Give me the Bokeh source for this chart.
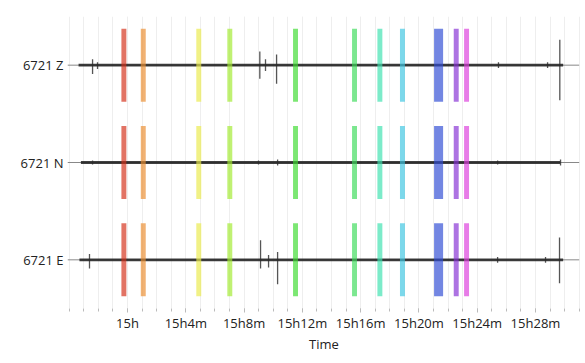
from bokeh.plotting import figure
from bokeh.models import FixedTicker, Range1d, FactorRange, ColumnDataSource
from bokeh.embed import file_html
from bokeh.resources import INLINE

# ---- data ----
channels = ["6721 Z", "6721 N", "6721 E"]

# x values are minutes after 15h00
tick_minutes = [0, 4, 8, 12, 16, 20, 24, 28]
tick_labels = ["15h", "15h4m", "15h8m", "15h12m", "15h16m", "15h20m", "15h24m", "15h28m"]
minor_minutes = list(range(-4, 32))

# recorded span (faint) and main (dark) span of each trace, minutes
record_start = [-4.12, -4.12, -4.12]
record_end = [31.0, 31.0, 31.0]
trace_start = [-3.36, -3.2, -3.3]
trace_end = [29.9, 29.7, 29.9]

# transients per channel: time (min), upward amplitude, downward amplitude (fraction of lane)
z_t = [-2.40, -2.06, 9.08, 9.47, 10.23, 25.46, 28.83, 29.67]
z_up = [0.06, 0.03, 0.14, 0.06, 0.11, 0.03, 0.03, 0.26]
z_dn = [0.09, 0.04, 0.14, 0.06, 0.19, 0.03, 0.03, 0.36]

n_t = [-2.40, 8.99, 10.30, 25.40, 29.72]
n_up = [0.02, 0.02, 0.03, 0.02, 0.03]
n_dn = [0.02, 0.02, 0.03, 0.02, 0.03]

e_t = [-2.61, 9.13, 9.68, 10.30, 25.40, 28.69, 29.65]
e_up = [0.06, 0.20, 0.05, 0.08, 0.03, 0.03, 0.23]
e_dn = [0.09, 0.09, 0.08, 0.25, 0.03, 0.03, 0.24]

# picked phase windows: centre time (min), width (min), colour
pick_t = [-0.25, 1.08, 4.89, 7.02, 11.53, 15.58, 17.32, 18.87, 21.35, 22.56, 23.27]
pick_w = [0.34, 0.34, 0.34, 0.34, 0.34, 0.34, 0.34, 0.34, 0.62, 0.34, 0.34]
pick_c = ["#d4301a", "#ea8d30", "#eaea4c", "#a2ea30", "#3edb30", "#3edb5b",
          "#3ee2b0", "#3ec6e2", "#304cd4", "#8630d4", "#db3edb"]

FONT = "Open Sans"

p = figure(width=582, height=355,
           x_range=Range1d(-4.12, 31.09),
           y_range=FactorRange(*channels[::-1]),
           output_backend="svg", toolbar_location=None,
           min_border_left=67, min_border_right=2, min_border_top=16, min_border_bottom=42)
p.outline_line_color = None
p.background_fill_color = "white"
p.border_fill_color = "white"

# grid
p.ygrid.grid_line_color = None
p.xgrid.grid_line_color = "#eeeeee"
p.xgrid.minor_grid_line_color = "#eeeeee"

# x axis
p.xaxis.ticker = FixedTicker(ticks=tick_minutes, minor_ticks=minor_minutes)
p.xaxis.major_label_overrides = {m: l for m, l in zip(tick_minutes, tick_labels)}
p.xaxis.axis_line_color = None
p.xaxis.major_tick_line_color = "#bbbbbb"
p.xaxis.minor_tick_line_color = "#bbbbbb"
p.xaxis.major_tick_in = 0
p.xaxis.major_tick_out = 4
p.xaxis.minor_tick_in = 0
p.xaxis.minor_tick_out = 3
p.xaxis.major_label_standoff = 1
p.xaxis.axis_label = "Time"
p.xaxis.axis_label_standoff = 0
p.xaxis.axis_label_text_font_style = "normal"

# y axis
p.yaxis.axis_line_color = None
p.yaxis.major_tick_line_color = None
p.yaxis.major_tick_in = 0
p.yaxis.major_tick_out = 0
p.yaxis.major_label_standoff = 4

for ax in (p.xaxis, p.yaxis):
    ax.major_label_text_font = FONT
    ax.major_label_text_font_size = "13px"
    ax.major_label_text_color = "#222222"
    ax.axis_label_text_font = FONT
    ax.axis_label_text_font_size = "13px"
    ax.axis_label_text_color = "#222222"

# traces
events = [(z_t, z_up, z_dn), (n_t, n_up, n_dn), (e_t, e_up, e_dn)]
for i, ch in enumerate(channels):
    p.line(x=[record_start[i], record_end[i]], y=[(ch, 0.0), (ch, 0.0)],
           line_color="#888888", line_width=1)
    p.line(x=[trace_start[i], trace_end[i]], y=[(ch, 0.0), (ch, 0.0)],
           line_color="#1e1e1e", line_width=2.8, line_alpha=0.85)
    t, up, dn = events[i]
    src = ColumnDataSource(dict(
        x=t,
        y0=[(ch, u) for u in up],
        y1=[(ch, -d) for d in dn],
    ))
    p.segment(x0="x", x1="x", y0="y0", y1="y1", source=src,
              line_color="#2a2a2a", line_width=1.3, line_alpha=0.8)

# picks (coloured windows on every channel)
rx, ry, rw, rc = [], [], [], []
for ch in channels:
    for t, w, c in zip(pick_t, pick_w, pick_c):
        rx.append(t)
        ry.append(ch)
        rw.append(w)
        rc.append(c)
p.rect(x=rx, y=ry, width=rw, height=0.75, fill_color=rc, fill_alpha=0.68, line_color=None)

open("out.html", "w").write(file_html(p, INLINE))
